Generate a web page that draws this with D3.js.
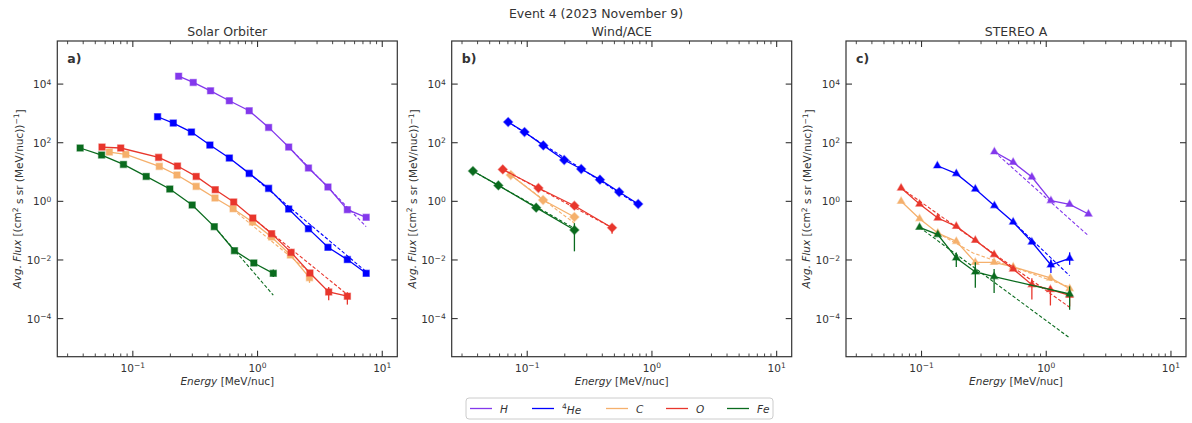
<!DOCTYPE html>
<html>
<head>
<meta charset="utf-8">
<script src="https://cdn.jsdelivr.net/npm/d3@7"></script>
<style>
body { margin: 0; background: #fff; }
text { font-family: "DejaVu Sans", sans-serif; fill: #333; }
</style>
</head>
<body>
<div id="chart"></div>
<script>
// species + colours
const speciesNames = ["H", "4He", "C", "O", "Fe"];
const speciesColors = ["#8338ec", "#0000ff", "#f5b06c", "#e8362c", "#0a6b1e"];

// Solar Orbiter (energies MeV/nuc, flux)
const soloE_H = [0.233, 0.305, 0.42, 0.594, 0.857, 1.227, 1.778, 2.56, 3.67, 5.25, 7.43];
const soloF_H = [18600, 11400, 5900, 2700, 1230, 333, 71, 13.7, 3.08, 0.52, 0.285];
const soloE_He = [0.158, 0.211, 0.295, 0.415, 0.594, 0.857, 1.227, 1.778, 2.56, 3.67, 5.25, 7.43];
const soloF_He = [770, 468, 231, 83, 30, 9.0, 2.77, 0.548, 0.117, 0.027, 0.0103, 0.0035];
const soloE_C = [0.0648, 0.0879, 0.163, 0.226, 0.322, 0.456, 0.637, 0.912, 1.297, 1.835, 2.61];
const soloF_C = [48, 40, 15.6, 7.9, 3.24, 1.30, 0.56, 0.197, 0.061, 0.0148, 0.0025];
const soloE_O = [0.0566, 0.080, 0.161, 0.228, 0.322, 0.458, 0.644, 0.917, 1.297, 1.857, 2.63, 3.72, 5.25];
const soloF_O = [71, 66, 31.6, 16, 7.1, 2.5, 0.95, 0.27, 0.079, 0.0182, 0.0036, 0.00081, 0.00058];
const soloE_Fe = [0.0378, 0.0562, 0.0841, 0.128, 0.198, 0.299, 0.45, 0.653, 0.934, 1.337];
const soloF_Fe = [66, 38, 18.2, 7.1, 2.63, 0.75, 0.137, 0.0208, 0.0079, 0.0035];
// error bars [E, low, high]
const soloErr_C = [[2.61, 0.00165, 0.0032]];
const soloErr_O = [[2.63, 0.0029, 0.0045], [3.72, 0.00042, 0.0012], [5.25, 0.0003, 0.00079]];
const soloErr_Fe = [[1.337, 0.0026, 0.0047]];
// power law fits [E, F]
const soloFit_H = [[1.78, 72], [7.43, 0.137]];
const soloFit_He = [[0.857, 9.0], [7.43, 0.004]];
const soloFit_C = [[0.637, 0.52], [2.61, 0.0038]];
const soloFit_O = [[0.917, 0.27], [5.25, 0.00066]];
const soloFit_Fe = [[0.45, 0.137], [1.337, 0.00063]];

// Wind/ACE
const windE_He = [0.0703, 0.0951, 0.1346, 0.198, 0.271, 0.383, 0.546, 0.776];
const windF_He = [507, 231, 81, 25.7, 12.7, 5.5, 2.08, 0.81];
const windE_C = [0.0738, 0.134, 0.239];
const windF_C = [7.9, 1.11, 0.292];
const windE_O = [0.0637, 0.123, 0.239, 0.479];
const windF_O = [12.3, 2.85, 0.71, 0.126];
const windE_Fe = [0.0367, 0.0587, 0.118, 0.239];
const windF_Fe = [10.8, 3.5, 0.61, 0.105];
const windErr_O = [[0.479, 0.079, 0.16]];
const windErr_Fe = [[0.239, 0.0197, 0.18]];
const windFit_He = [[0.0703, 507], [0.776, 0.75]];
const windFit_C = [[0.0738, 7.9], [0.239, 0.18]];
const windFit_O = [[0.0637, 12.3], [0.479, 0.126]];
const windFit_Fe = [[0.0367, 10.8], [0.239, 0.12]];

// STEREO A
const staE_H = [0.384, 0.543, 0.767, 1.09, 1.54, 2.18];
const staF_H = [49, 21.4, 6.76, 1.05, 0.79, 0.37];
const staE_He = [0.134, 0.19, 0.27, 0.384, 0.543, 0.767, 1.09, 1.54];
const staF_He = [16.4, 8.8, 2.63, 0.71, 0.197, 0.041, 0.0068, 0.0114];
const staE_C = [0.0686, 0.0964, 0.135, 0.19, 0.27, 0.382, 0.543, 1.08, 1.54];
const staF_C = [1.0, 0.256, 0.083, 0.043, 0.0083, 0.0083, 0.0058, 0.00243, 0.00105];
const staE_O = [0.0686, 0.0964, 0.135, 0.19, 0.27, 0.382, 0.543, 0.767, 1.08, 1.54];
const staF_O = [2.85, 0.81, 0.27, 0.14, 0.047, 0.0152, 0.0049, 0.00144, 0.00098, 0.00062];
const staE_Fe = [0.0964, 0.135, 0.19, 0.27, 0.382, 1.54];
const staF_Fe = [0.13, 0.073, 0.0117, 0.0039, 0.0027, 0.00069];
const staErr_He = [[1.09, 0.0036, 0.0103], [1.54, 0.0068, 0.0182]];
const staErr_C = [[1.54, 0.0008, 0.0014]];
const staErr_O = [[0.767, 0.00045, 0.0024], [1.08, 0.00028, 0.00126], [1.54, 0.00026, 0.0009]];
const staErr_Fe = [[0.19, 0.0058, 0.018], [0.27, 0.00112, 0.0083], [0.382, 0.00075, 0.0049], [1.54, 0.0002, 0.00126]];
const staFit_H = [[0.384, 49], [2.18, 0.067]];
const staFit_He = [[0.543, 0.197], [1.54, 0.0029]];
const staFit_C = [[0.135, 0.083], [0.259, 0.0173], [1.54, 0.0012]];
const staFit_O = [[0.0686, 2.85], [1.54, 0.000245]];
const staFit_Fe = [[0.0964, 0.13], [1.54, 0.000022]];

const xTickVals = [0.1, 1, 10];
const yTickVals = [1e-4, 1e-2, 1, 1e2, 1e4];

// panel definitions
const panels = [
  {title: "Solar Orbiter", tag: "a)", marker: "square", series: [
    {sp: 0, E: soloE_H, F: soloF_H, fit: soloFit_H},
    {sp: 1, E: soloE_He, F: soloF_He, fit: soloFit_He},
    {sp: 2, E: soloE_C, F: soloF_C, err: soloErr_C, fit: soloFit_C},
    {sp: 3, E: soloE_O, F: soloF_O, err: soloErr_O, fit: soloFit_O},
    {sp: 4, E: soloE_Fe, F: soloF_Fe, err: soloErr_Fe, fit: soloFit_Fe}]},
  {title: "Wind/ACE", tag: "b)", marker: "diamond", series: [
    {sp: 1, E: windE_He, F: windF_He, fit: windFit_He},
    {sp: 2, E: windE_C, F: windF_C, fit: windFit_C},
    {sp: 3, E: windE_O, F: windF_O, err: windErr_O, fit: windFit_O},
    {sp: 4, E: windE_Fe, F: windF_Fe, err: windErr_Fe, fit: windFit_Fe}]},
  {title: "STEREO A", tag: "c)", marker: "triangle", series: [
    {sp: 0, E: staE_H, F: staF_H, fit: staFit_H},
    {sp: 1, E: staE_He, F: staF_He, err: staErr_He, fit: staFit_He},
    {sp: 2, E: staE_C, F: staF_C, err: staErr_C, fit: staFit_C},
    {sp: 3, E: staE_O, F: staF_O, err: staErr_O, fit: staFit_O},
    {sp: 4, E: staE_Fe, F: staF_Fe, err: staErr_Fe, fit: staFit_Fe}]}
];

const width = 1192, height = 423;
const panelLeft = [57.3, 451.7, 846];
const panelW = 340, panelTop = 41, panelH = 315.7;

const svg = d3.select("#chart").append("svg")
  .attr("width", width).attr("height", height);

const xScale = d3.scaleLog().domain([0.0248, 13.2]).range([0, panelW]);
const yScale = d3.scaleLog().domain([Math.pow(10, -5.3), Math.pow(10, 5.47)]).range([panelH, 0]);

// minor ticks on x
const xMinor = [];
[0.01, 0.1, 1].forEach(d => { for (let k = 2; k <= 9; k++) { const v = d * k; if (v > 0.0248 && v < 13.2) xMinor.push(v); } });

const diamondType = {
  draw(ctx, size) {
    const r = Math.sqrt(size) * 0.72;
    ctx.moveTo(0, -r); ctx.lineTo(r, 0); ctx.lineTo(0, r); ctx.lineTo(-r, 0); ctx.closePath();
  }
};
const symbolFor = {square: d3.symbol(d3.symbolSquare, 40), diamond: d3.symbol(diamondType, 40), triangle: d3.symbol(d3.symbolTriangle, 24)};

// superscript label helper
function powLabel(sel, v) {
  const e = Math.round(Math.log10(v));
  sel.append("tspan").text("10");
  sel.append("tspan").attr("dy", "-0.45em").attr("font-size", "0.72em").text(e < 0 ? "\u2212" + (-e) : e);
}

panels.forEach((p, i) => {
  const g = svg.append("g").attr("transform", `translate(${panelLeft[i]},${panelTop})`);

  // data
  const line = d3.line().x(d => xScale(d[0])).y(d => yScale(d[1]));
  p.series.forEach(s => {
    const col = speciesColors[s.sp];
    if (s.fit) {
      g.append("path").attr("d", line(s.fit))
        .attr("fill", "none").attr("stroke", col).attr("stroke-width", 1.1)
        .attr("stroke-dasharray", "3.5,2");
    }
    const pts = s.E.map((e, k) => [e, s.F[k]]);
    g.append("path").attr("d", line(pts))
      .attr("fill", "none").attr("stroke", col).attr("stroke-width", 1.3);
    if (s.err) {
      g.selectAll(null).data(s.err).enter().append("line")
        .attr("x1", d => xScale(d[0])).attr("x2", d => xScale(d[0]))
        .attr("y1", d => yScale(d[1])).attr("y2", d => yScale(d[2]))
        .attr("stroke", col).attr("stroke-width", 1.3);
    }
    g.selectAll(null).data(pts).enter().append("path")
      .attr("d", symbolFor[p.marker])
      .attr("transform", d => `translate(${xScale(d[0])},${yScale(d[1])})`)
      .attr("fill", col).attr("stroke", col).attr("stroke-opacity", 0.45).attr("stroke-width", 1.2);
  });

  // frame
  g.append("rect").attr("width", panelW).attr("height", panelH)
    .attr("fill", "none").attr("stroke", "#333").attr("stroke-width", 1.2);

  // x ticks bottom and top (inward)
  const tickCol = "#333";
  [panelH, 0].forEach(y0 => {
    const dir = y0 === 0 ? 1 : -1;
    g.selectAll(null).data(xTickVals).enter().append("line")
      .attr("x1", d => xScale(d)).attr("x2", d => xScale(d))
      .attr("y1", y0).attr("y2", y0 + dir * 6).attr("stroke", tickCol).attr("stroke-width", 1.1);
    g.selectAll(null).data(xMinor).enter().append("line")
      .attr("x1", d => xScale(d)).attr("x2", d => xScale(d))
      .attr("y1", y0).attr("y2", y0 + dir * 3.2).attr("stroke", tickCol).attr("stroke-width", 0.9);
  });
  [0, panelW].forEach(x0 => {
    const dir = x0 === 0 ? 1 : -1;
    g.selectAll(null).data(yTickVals).enter().append("line")
      .attr("x1", x0).attr("x2", x0 + dir * 6)
      .attr("y1", d => yScale(d)).attr("y2", d => yScale(d)).attr("stroke", tickCol).attr("stroke-width", 1.1);
  });

  // tick labels
  xTickVals.forEach(v => {
    const t = g.append("text").attr("x", xScale(v)).attr("y", panelH + 15)
      .attr("text-anchor", "middle").attr("font-size", 10.5);
    powLabel(t, v);
  });
  yTickVals.forEach(v => {
    const t = g.append("text").attr("x", -6).attr("y", yScale(v) + 4)
      .attr("text-anchor", "end").attr("font-size", 10.5);
    powLabel(t, v);
  });

  // axis labels
  const xl = g.append("text").attr("x", panelW / 2).attr("y", panelH + 28)
    .attr("text-anchor", "middle").attr("font-size", 10.5);
  xl.append("tspan").attr("font-style", "italic").text("Energy");
  xl.append("tspan").text(" [MeV/nuc]");

  const yl = g.append("text").attr("transform", `translate(-36,${panelH / 2}) rotate(-90)`)
    .attr("text-anchor", "middle").attr("font-size", 10.5);
  yl.append("tspan").attr("font-style", "italic").text("Avg. Flux");
  yl.append("tspan").text(" [(cm");
  yl.append("tspan").attr("dy", "-0.45em").attr("font-size", "0.72em").text("2");
  yl.append("tspan").attr("dy", "0.45em").text(" s sr (MeV/nuc))");
  yl.append("tspan").attr("dy", "-0.45em").attr("font-size", "0.72em").text("\u22121");
  yl.append("tspan").attr("dy", "0.45em").text("]");

  // panel title + tag
  g.append("text").attr("x", panelW / 2).attr("y", -5).attr("text-anchor", "middle")
    .attr("font-size", 12.5).text(p.title);
  g.append("text").attr("x", 10).attr("y", 22).attr("font-size", 12.5)
    .attr("font-weight", "bold").text(p.tag);
});

// main title
svg.append("text").attr("x", 596).attr("y", 18).attr("text-anchor", "middle")
  .attr("font-size", 12.5).text("Event 4 (2023 November 9)");

// legend
const legX = [470, 532, 606, 666, 727];
const leg = svg.append("g");
leg.append("rect").attr("x", 466).attr("y", 398).attr("width", 307).attr("height", 21)
  .attr("rx", 3).attr("fill", "#fff").attr("stroke", "#ccc").attr("stroke-width", 1);
speciesNames.forEach((n, k) => {
  leg.append("line").attr("x1", legX[k]).attr("x2", legX[k] + 22)
    .attr("y1", 408.5).attr("y2", 408.5).attr("stroke", speciesColors[k]).attr("stroke-width", 1.3);
  const t = leg.append("text").attr("x", legX[k] + 30).attr("y", 412.5).attr("font-size", 10.5);
  if (n === "4He") {
    t.append("tspan").attr("dy", "-0.45em").attr("font-size", "0.72em").text("4");
    t.append("tspan").attr("dy", "0.45em").attr("font-style", "italic").text("He");
  } else {
    t.append("tspan").attr("font-style", "italic").text(n);
  }
});
</script>
</body>
</html>
